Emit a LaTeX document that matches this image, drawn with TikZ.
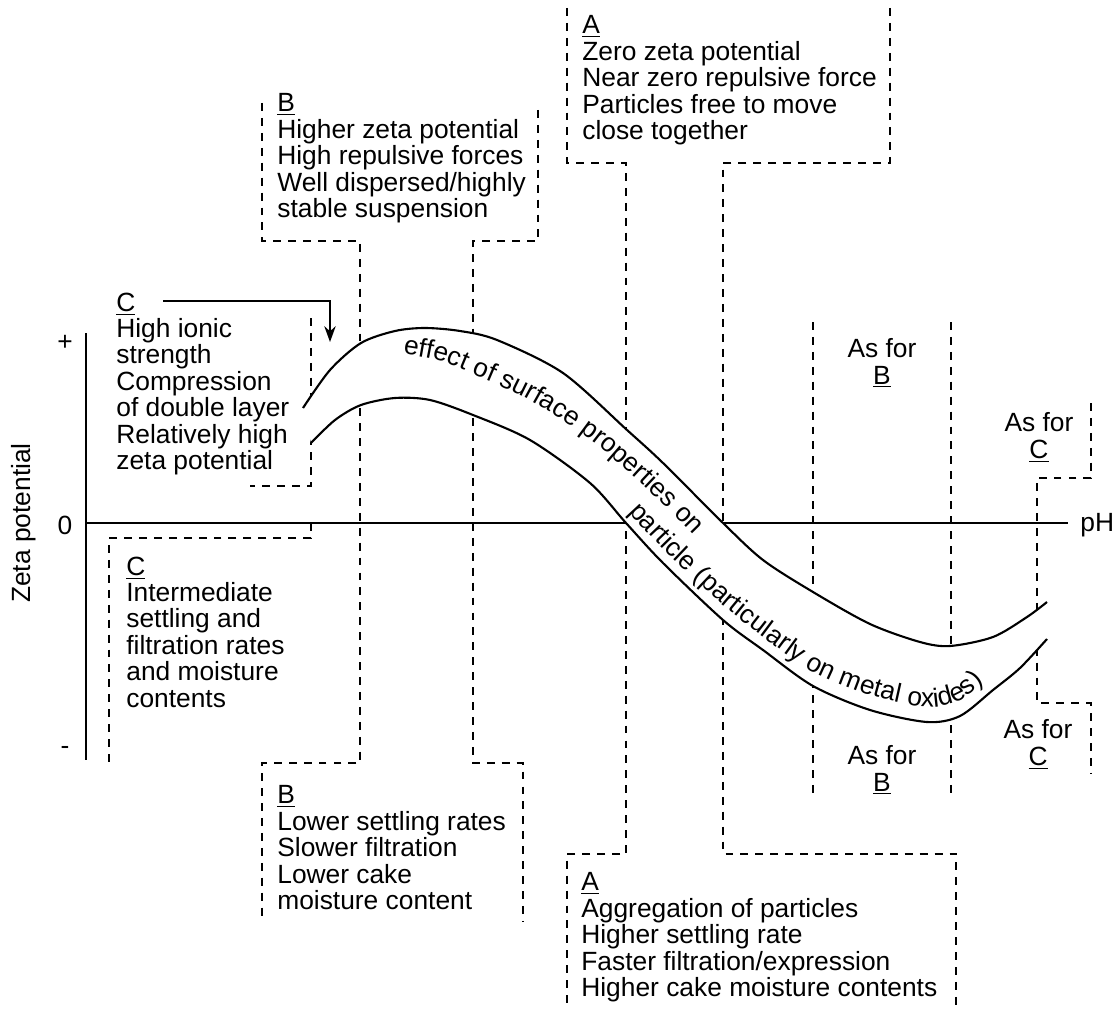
\documentclass[tikz,border=0pt]{standalone}
\usepackage{fontspec}
\setmainfont{Liberation Sans}
\usepackage{tikz}
\usetikzlibrary{arrows.meta,decorations.text}
\newcommand\lbl{\fontsize{15}{15}\selectfont}
\tikzset{
  >=Stealth,
  txt/.style = {inner sep=0pt, font=\lbl, align=left, anchor=north west},
  asfor/.style = {inner sep=0pt, font=\lbl, align=center, anchor=north},
  axlbl/.style = {inner sep=0pt, font=\lbl},
  zone/.style = {line width=1.1pt, dash pattern=on 4.5pt off 4pt},
  band/.style = {line width=1.2pt},
  axis/.style = {line width=1.6pt},
  ontext/.style = {decorate, decoration={text along path, text={|\lbl|#1}}},
}

\begin{document}
\begin{tikzpicture}[x=0.02cm, y=-0.02cm]
  \useasboundingbox (0,0) rectangle (1118,1010);
  \coordinate (ytop) at (86,333);
  \coordinate (ybot) at (86,760);
  \coordinate (o) at (86,523);
  \coordinate (xend) at (1068,523);
  \draw[axis] (ytop) -- (ybot);
  \draw[axis] (o) -- (xend);
  \node[axlbl] (plus) at (65,343) {+};
  \node[axlbl] (zero) at (65,525) {0};
  \node[axlbl] (minus) at (65,750) {-};
  \node[axlbl, rotate=90] (zeta) at (24,523) {Zeta potential};
  \node[axlbl, anchor=west] (ph) at (1080,525) {pH};
  % zone borders
  \draw[zone] (262,103) -- (262,241) -- (360,241) -- (360,763) -- (262,763) -- (262,917);  % B left
  \draw[zone] (538,110) -- (538,241) -- (473,241) -- (473,763) -- (523,763) -- (523,922);  % B right
  \draw[zone] (567,8) -- (567,163) -- (626,163) -- (626,854) -- (567,854) -- (567,1010);   % A left
  \draw[zone] (890,8) -- (890,163) -- (723,163) -- (723,854) -- (956,854) -- (956,1005);   % A right
  \draw[zone] (311,318) -- (311,486) -- (250,486);                                        % C top
  \draw[zone] (311,523) -- (311,538) -- (109,538) -- (109,762);                           % C bottom
  \draw[zone] (813,322) -- (813,795);
  \draw[zone] (951,322) -- (951,795);
  \draw[zone] (1091,403) -- (1091,478) -- (1037,478) -- (1037,703) -- (1091,703) -- (1091,773);
  % band
  \fill[white] plot[smooth] coordinates {(303,408) (330,370) (361,343) (395,331) (425,328) (460,331) (497,340) (563,373) (627,430) (663,463) (723,523) (763,560) (813,592) (870,624) (920,642) (950,646) (993,637) (1027,617) (1047,602)}
    -- plot[smooth] coordinates {(1047,639) (1020,668) (993,690) (960,716) (927,722) (870,710) (813,686) (763,650) (723,620) (663,563) (626,523) (590,483) (530,440) (473,415) (430,400) (395,398) (361,405) (335,420) (311,443)} -- cycle;
  \draw[band] plot[smooth] coordinates {(303,408) (330,370) (361,343) (395,331) (425,328) (460,331) (497,340) (563,373) (627,430) (663,463) (723,523) (763,560) (813,592) (870,624) (920,642) (950,646) (993,637) (1027,617) (1047,602)};
  \draw[band] plot[smooth] coordinates {(311,443) (335,420) (361,405) (395,398) (430,400) (473,415) (530,440) (590,483) (626,523) (663,563) (723,620) (763,650) (813,686) (870,710) (927,722) (960,716) (993,690) (1020,668) (1047,639)};
  \path[ontext={effect of surface properties on}]
    plot[smooth] coordinates {(403,354) (440,361) (480,377) (520,395) (560,418) (600,447) (640,482) (680,521) (715,557) (750,594) (780,627)};
  \path[ontext={particle (particularly on metal oxides)}]
    plot[smooth] coordinates {(628,512) (663,549) (700,584) (723,605) (763,637) (813,672) (870,695) (927,707) (960,700) (990,677) (1010,656) (1030,628)};
  % texts
  \node[txt] (btop) at (277,93.5) {\underline{B}\\Higher zeta potential\\High repulsive forces\\Well dispersed/highly\\stable suspension};
  \node[txt] (atop) at (582,15.5) {\underline{A}\\Zero zeta potential\\Near zero repulsive force\\Particles free to move\\close together};
  \node[txt] (ctop) at (116,292.5) {\underline{C}\\High ionic\\strength\\Compression\\of double layer\\Relatively high\\zeta potential};
  \node[txt] (cbot) at (126,556.5) {\underline{C}\\Intermediate\\settling and\\filtration rates\\and moisture\\contents};
  \node[txt] (bbot) at (277,785.5) {\underline{B}\\Lower settling rates\\Slower filtration\\Lower cake\\moisture content};
  \node[txt] (abot) at (581,872.5) {\underline{A}\\Aggregation of particles\\Higher settling rate\\Faster filtration/expression\\Higher cake moisture contents};
  \node[asfor] (asb1) at (882,338.5) {As for\\\underline{B}};
  \node[asfor] (asb2) at (882,745.5) {As for\\\underline{B}};
  \node[asfor] (asc1) at (1039,412.5) {As for\\\underline{C}};
  \node[asfor] (asc2) at (1038,719.5) {As for\\\underline{C}};
  % arrow C -> band
  \coordinate (arr0) at (163,301);
  \coordinate (arr1) at (330,342);
  \draw[band, -{Stealth[length=9pt,width=6.5pt]}] (arr0) -| (arr1);
\end{tikzpicture}
\end{document}
